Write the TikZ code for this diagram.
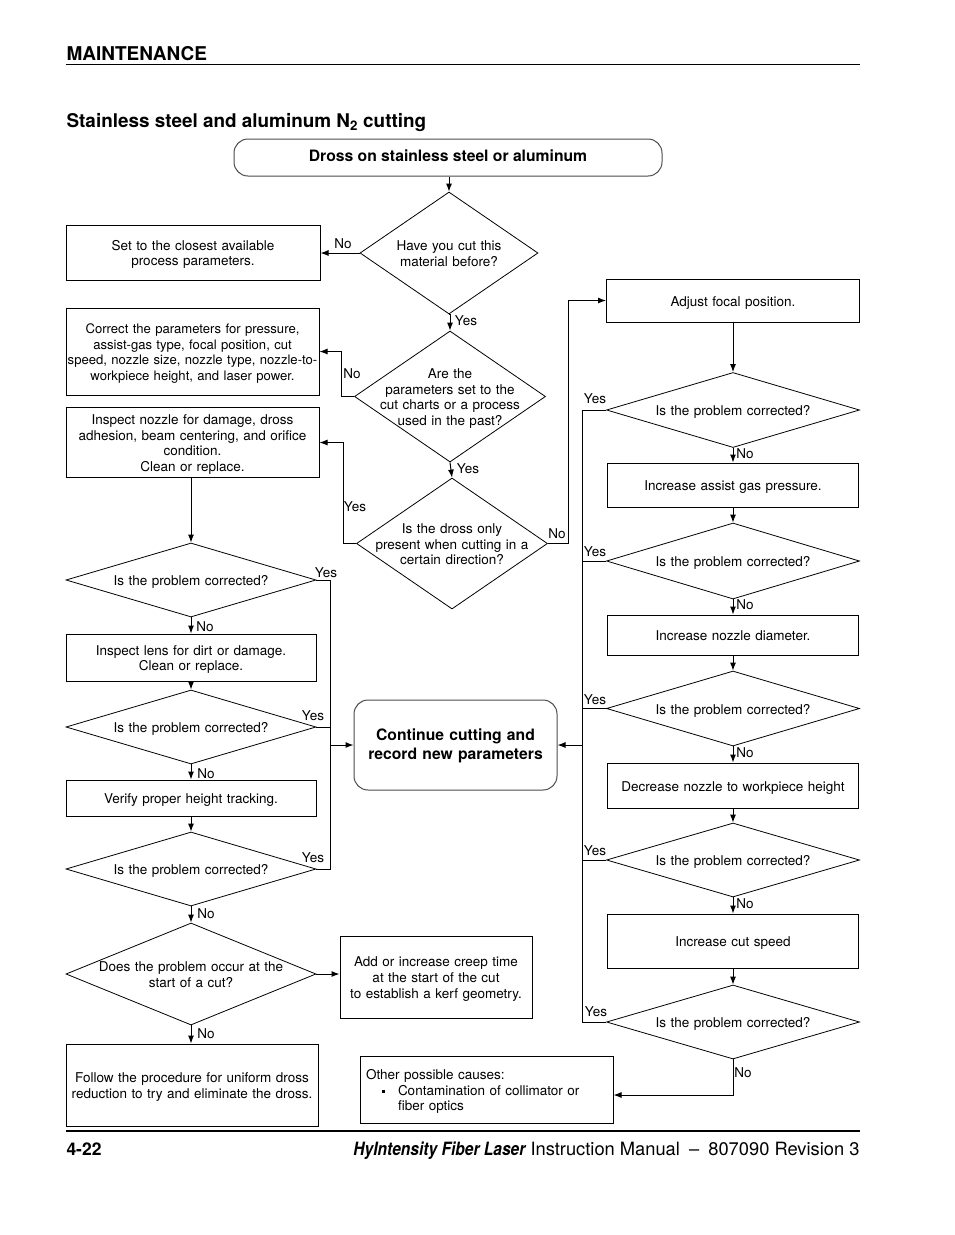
\documentclass[tikz,border=0pt]{standalone}
\usepackage{fontspec}
\setmainfont{TeX Gyre Heros}
\newfontfamily\narrowfont[FakeStretch=0.85]{TeX Gyre Heros}
\usetikzlibrary{shapes.geometric,arrows.meta}
\newcommand\topstrut{\rule{0pt}{14pt}}
\newcommand\botstrut{\rule[-3pt]{0pt}{3pt}}
\begin{document}
\begin{tikzpicture}[x=1pt,y=-1pt,>={Latex[length=8pt,width=6pt]},line width=1pt,
  txt/.style={font=\fontsize{13.5}{15.8}\selectfont},
  struts/.style={execute at begin node=\topstrut,execute at end node=\botstrut},
  box/.style={draw,rectangle,txt,struts,align=center,inner xsep=0pt,inner ysep=3pt,text width=#1pt,minimum width=#1pt},
  dia/.style={draw,diamond,line width=0.8pt,inner sep=0pt},
  qtxt/.style={txt,struts,align=center,inner sep=0pt,text width=200pt},
  roundbox/.style={draw=black!70,rectangle,rounded corners=14pt,align=center,font=\bfseries\fontsize{15.7}{19}\selectfont},
  lab/.style={txt,inner sep=0pt}]
\useasboundingbox (0,0) rectangle (954,1235);

% page head
\node[anchor=base west,inner sep=0pt,font=\bfseries\fontsize{19}{20}\selectfont] (head) at (66,60) {MAINTENANCE};
\draw[line width=0.8pt] (66,64.5) -- (860,64.5);
\node[anchor=base west,inner sep=0pt,font=\bfseries\fontsize{18.9}{20}\selectfont] (title) at (66,127) {Stainless steel and aluminum N\textsubscript{2} cutting};

% middle column
\node[roundbox,minimum width=428,minimum height=37,text height=11pt,text depth=3.7pt] (start) at (448,157.5) {Dross on stainless steel or aluminum};
\node[dia,minimum width=178,minimum height=122,label={[qtxt]center:{Have you cut this\\material before?}}] (D1) at (449,253) {};
\node[dia,minimum width=191,minimum height=131,label={[qtxt]center:{Are the\\parameters set to the\\cut charts or a process\\used in the past?}}] (D2) at (450,396.5) {};
\node[dia,minimum width=191,minimum height=131,label={[qtxt]center:{Is the dross only\\present when cutting in a\\certain direction?}}] (D3) at (452,543.5) {};
\node[roundbox,struts,text width=190pt,inner xsep=0pt,minimum width=203,minimum height=90] (cont) at (455.5,745) {Continue cutting and\\record new parameters};
\node[box=192,minimum height=82] (B6) at (436,977) {Add or increase creep time\\at the start of the cut\\to establish a kerf geometry.};
\node[draw,rectangle,txt,struts,align=left,text width=241,inner sep=6pt,minimum width=253,minimum height=67] (B8) at (486.5,1089.5)
  {Other possible causes:\\\hspace*{16pt}\raisebox{2.5pt}{\rule{3pt}{3pt}}\hspace*{13pt}Contamination of collimator or\\\hspace*{32pt}fiber optics};

% left column
\node[box=254,minimum height=55] (B1) at (193,252.5) {Set to the closest available\\process parameters.};
\node[box=253,minimum height=87,font=\fontsize{13.1}{15.8}\selectfont] (B2) at (192.5,351.5) {Correct the parameters for pressure,\\assist-gas type, focal position, cut\\speed, nozzle size, nozzle type, nozzle-to-\\workpiece height, and laser power.};
\node[box=253,minimum height=69] (B3) at (192.5,442.5) {Inspect nozzle for damage, dross\\adhesion, beam centering, and orifice\\condition.\\Clean or replace.};
\node[dia,minimum width=250,minimum height=74,label={[qtxt]center:{Is the problem corrected?}}] (L1) at (191,580) {};
\node[box=250,minimum height=47] (B4) at (191,657.5) {Inspect lens for dirt or damage.\\Clean or replace.};
\node[dia,minimum width=250,minimum height=74,label={[qtxt]center:{Is the problem corrected?}}] (L2) at (191,727) {};
\node[box=250,minimum height=36] (B5) at (191,798) {Verify proper height tracking.};
\node[dia,minimum width=250,minimum height=74,label={[qtxt]center:{Is the problem corrected?}}] (L3) at (191,869) {};
\node[dia,minimum width=250,minimum height=102,label={[qtxt]center:{Does the problem occur at the\\start of a cut?}}] (L4) at (191,974) {};
\node[box=252,minimum height=82] (B7) at (192,1085) {Follow the procedure for uniform dross\\reduction to try and eliminate the dross.};

% right column
\node[box=253,minimum height=43] (R1) at (733,300.5) {Adjust focal position.};
\node[dia,minimum width=253,minimum height=75,label={[qtxt]center:{Is the problem corrected?}}] (RD1) at (733,410) {};
\node[box=251,minimum height=44] (R2) at (733,485) {Increase assist gas pressure.};
\node[dia,minimum width=253,minimum height=76,label={[qtxt]center:{Is the problem corrected?}}] (RD2) at (733,561) {};
\node[box=251,minimum height=40] (R3) at (733,635) {Increase nozzle diameter.};
\node[dia,minimum width=253,minimum height=75,label={[qtxt]center:{Is the problem corrected?}}] (RD3) at (733,708.5) {};
\node[box=251,minimum height=45] (R4) at (733,785.5) {Decrease nozzle to workpiece height};
\node[dia,minimum width=253,minimum height=74,label={[qtxt]center:{Is the problem corrected?}}] (RD4) at (733,860) {};
\node[box=251,minimum height=54] (R5) at (733,941) {Increase cut speed};
\node[dia,minimum width=253,minimum height=74,label={[qtxt]center:{Is the problem corrected?}}] (RD5) at (733,1022) {};

% connectors, middle
\draw[->] (start.south -| D1.north) -- (D1.north);
\draw[->] (D1.west) -- (D1.west -| B1.east);
\draw[->] (D1.south) -- (D1.south -| D2.north) -- (D2.north);
\draw[->] (D2.west) -- ++(-13,0) |- (B2.east);
\draw[->] (D2.south) -- (D3.north);
\draw[->] (D3.west) -- ++(-13,0) |- (B3.east);
\draw[->] (D3.east) -- ++(21,0) |- (R1.west);

% connectors, left
\draw[->] (B3.south -| L1.north) -- (L1.north);
\draw[->] (L1.south) -- (B4.north);
\draw[->] (B4.south) -- (L2.north);
\draw[->] (L2.south) -- (B5.north);
\draw[->] (B5.south) -- (L3.north);
\draw[->] (L3.south) -- (L4.north);
\draw[->] (L4.south) -- (L4.south |- B7.north);
\draw[->] (L4.east) -- (L4.east -| B6.west);
\draw (L1.east) -- ++(14,0) coordinate (yl) -- (yl |- L3.east) -- (L3.east);
\draw (L2.east) -- (L2.east -| yl);
\draw[->] (yl |- cont.west) -- (cont.west);

% connectors, right
\draw[->] (R1.south) -- (RD1.north);
\draw[->] (RD1.south) -- (R2.north);
\draw[->] (R2.south) -- (RD2.north);
\draw[->] (RD2.south) -- (R3.north);
\draw[->] (R3.south) -- (RD3.north);
\draw[->] (RD3.south) -- (R4.north);
\draw[->] (R4.south) -- (RD4.north);
\draw[->] (RD4.south) -- (R5.north);
\draw[->] (R5.south) -- (RD5.north);
\draw[->] (RD5.south) |- ([yshift=-5.5pt]B8.east);
\draw (RD1.west) -- ++(-24,0) coordinate (yr) -- (yr |- RD5.west) -- (RD5.west);
\draw (RD2.west) -- (RD2.west -| yr);
\draw (RD3.west) -- (RD3.west -| yr);
\draw (RD4.west) -- (RD4.west -| yr);
\draw[->] (yr |- cont.east) -- (cont.east);

% yes / no
\node[lab] (n1) at (343,244) {No};
\node[lab] (y1) at (466,321) {Yes};
\node[lab] (n2) at (352,374) {No};
\node[lab] (y2) at (468,469) {Yes};
\node[lab] (y3) at (355,507) {Yes};
\node[lab] (n3) at (557,534) {No};
\node[lab] (yl1) at (326,573) {Yes};
\node[lab] (yl2) at (313,716) {Yes};
\node[lab] (yl3) at (313,858) {Yes};
\node[lab] (nl1) at (205,627) {No};
\node[lab] (nl2) at (206,774) {No};
\node[lab] (nl3) at (206,914) {No};
\node[lab] (nl4) at (206,1034) {No};
\node[lab] (yr1) at (595,399) {Yes};
\node[lab] (yr2) at (595,552) {Yes};
\node[lab] (yr3) at (595,700) {Yes};
\node[lab] (yr4) at (595,851) {Yes};
\node[lab] (yr5) at (596,1012) {Yes};
\node[lab] (nr1) at (745,454) {No};
\node[lab] (nr2) at (745,605) {No};
\node[lab] (nr3) at (745,753) {No};
\node[lab] (nr4) at (745,904) {No};
\node[lab] (nr5) at (743,1073) {No};

% page foot
\draw[line width=2.6pt] (66,1131) -- (860,1131);
\node[anchor=base west,inner sep=0pt,font=\bfseries\fontsize{17.5}{20}\selectfont] (page) at (66,1155) {4-22};
\node[anchor=base east,inner sep=0pt,font=\fontsize{18.3}{20}\selectfont] (manual) at (860,1155)
  {{\narrowfont\bfseries\itshape HyIntensity Fiber Laser} Instruction Manual\enspace–\enspace807090 Revision 3};
\end{tikzpicture}
\end{document}
